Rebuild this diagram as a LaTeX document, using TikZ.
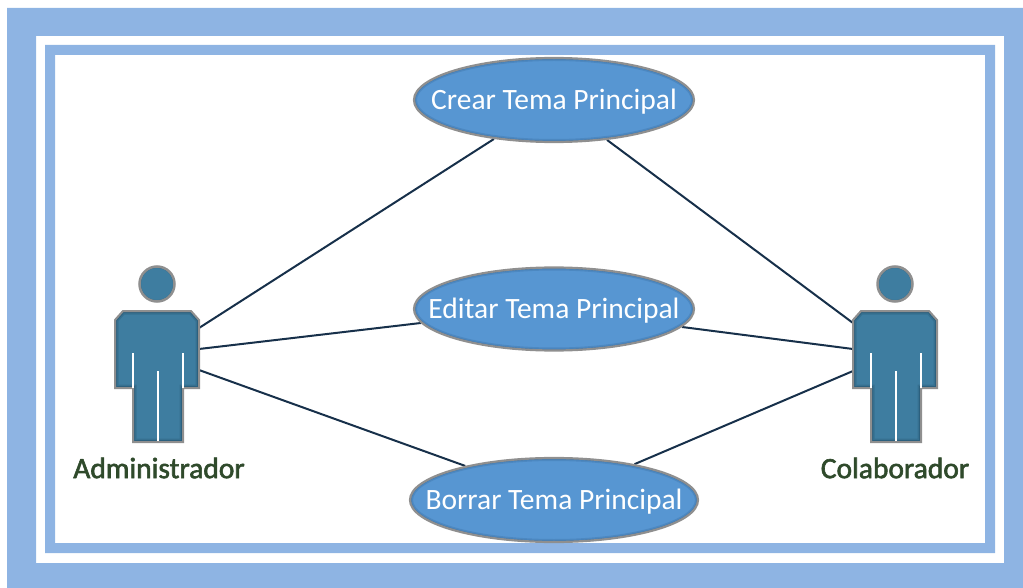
\documentclass[tikz,border=0pt]{standalone}
\usepackage{fontspec}
\usepackage{xcolor}
\usetikzlibrary{shapes.geometric,backgrounds}
\setmainfont{Carlito}
\newfontfamily\namefont[FakeBold=2]{Carlito}
\definecolor{frameblue}{HTML}{8EB4E3}
\definecolor{caseblue}{HTML}{5796D2}
\definecolor{caseshade}{HTML}{2F5F90}
\definecolor{actorblue}{HTML}{3E7DA0}
\definecolor{actorshade}{HTML}{1F4A63}
\definecolor{edgegray}{HTML}{8F8F8F}
\definecolor{linknavy}{HTML}{17304A}
\definecolor{labelgreen}{HTML}{2F4A2B}
\tikzset{
	usecase/.style n args={3}{ellipse, draw=edgegray, line width=2.2pt, fill=caseblue, inner sep=0pt,
		minimum width=2*#1 pt, minimum height=2*#2 pt,
		label={[text=white, font=\fontsize{29.5}{30}\selectfont, yshift=-2pt]center:#3},
		path picture={
			\draw[caseshade, opacity=0.25, line width=6pt] (path picture bounding box.center) ellipse [x radius=#1 pt, y radius=#2 pt];
			\draw[caseshade, opacity=0.4, line width=3pt] (path picture bounding box.center) ellipse [x radius=#1 pt, y radius=#2 pt];
		}},
	actorpart/.style={draw=edgegray, line width=2.5pt, fill=actorblue},
	actorslit/.style={draw=white, line width=2.2pt},
	actorname/.style={text=labelgreen, font=\namefont\fontsize{29.5}{30}\selectfont},
	link/.style={draw=linknavy, line width=2pt}
}
\def\bodypath{(123,311) -- (191,311) -- (199,320) -- (199,388) -- (183,388) -- (183,442) -- (133,442) -- (133,388) -- (115,388) -- (115,320) -- cycle}

\begin{document}
\begin{tikzpicture}[x=1pt, y=-1pt]
\useasboundingbox (0,0) rectangle (1023,588);

% Use cases
\node[usecase={140}{42}{Crear Tema Principal}] (crear) at (554,100) {};
\node[usecase={140}{41.5}{Editar Tema Principal}] (editar) at (554,309) {};
\node[usecase={144}{42}{Borrar Tema Principal}] (borrar) at (554,500) {};

% Actors
\foreach \name/\dx in {admin/0,colab/738}{
	\begin{scope}[xshift=\dx pt]
		\node[circle, actorpart, minimum size=35pt, inner sep=0pt,
			path picture={\draw[actorshade, opacity=0.4, line width=3pt] (path picture bounding box.center) circle (17.5pt);}] (\name head) at (157,284) {};
		\fill[actorblue] \bodypath;
		\begin{scope}
			\clip \bodypath;
			\draw[actorshade, opacity=0.25, line width=7pt] \bodypath;
			\draw[actorshade, opacity=0.4, line width=4pt] \bodypath;
		\end{scope}
		\draw[edgegray, line width=2pt] \bodypath;
		\draw[actorslit] (133,353) -- (133,388);
		\draw[actorslit] (183,353) -- (183,388);
		\draw[actorslit] (158,371) -- (158,441);
	\end{scope}
}
\node[actorname] (adminname) at (159,468) {Administrador};
\node[actorname] (colabname) at (895,468) {Colaborador};

% Connection points on the bodies
\foreach \i/\y in {1/328,2/349,3/370}
	\coordinate (admin\i) at (199,\y);
\foreach \i/\y in {1/323,2/349,3/371}
	\coordinate (colab\i) at (853,\y);

\begin{scope}[on background layer]
	% Frames
	\fill[frameblue, even odd rule] (7,8) rectangle (1023,588) (36,36) rectangle (1004,563);
	\fill[frameblue, even odd rule] (45,45) rectangle (995,553) (55,55) rectangle (985,543);

	% Connections
	\draw[link] (admin1) -- (crear.213);
	\draw[link] (admin2) -- (editar.186);
	\draw[link] (admin3) -- (borrar.159);
	\draw[link] (colab1) -- (crear.323);
	\draw[link] (colab2) -- (editar.352);
	\draw[link] (colab3) -- (borrar.24);
\end{scope}
\end{tikzpicture}
\end{document}
